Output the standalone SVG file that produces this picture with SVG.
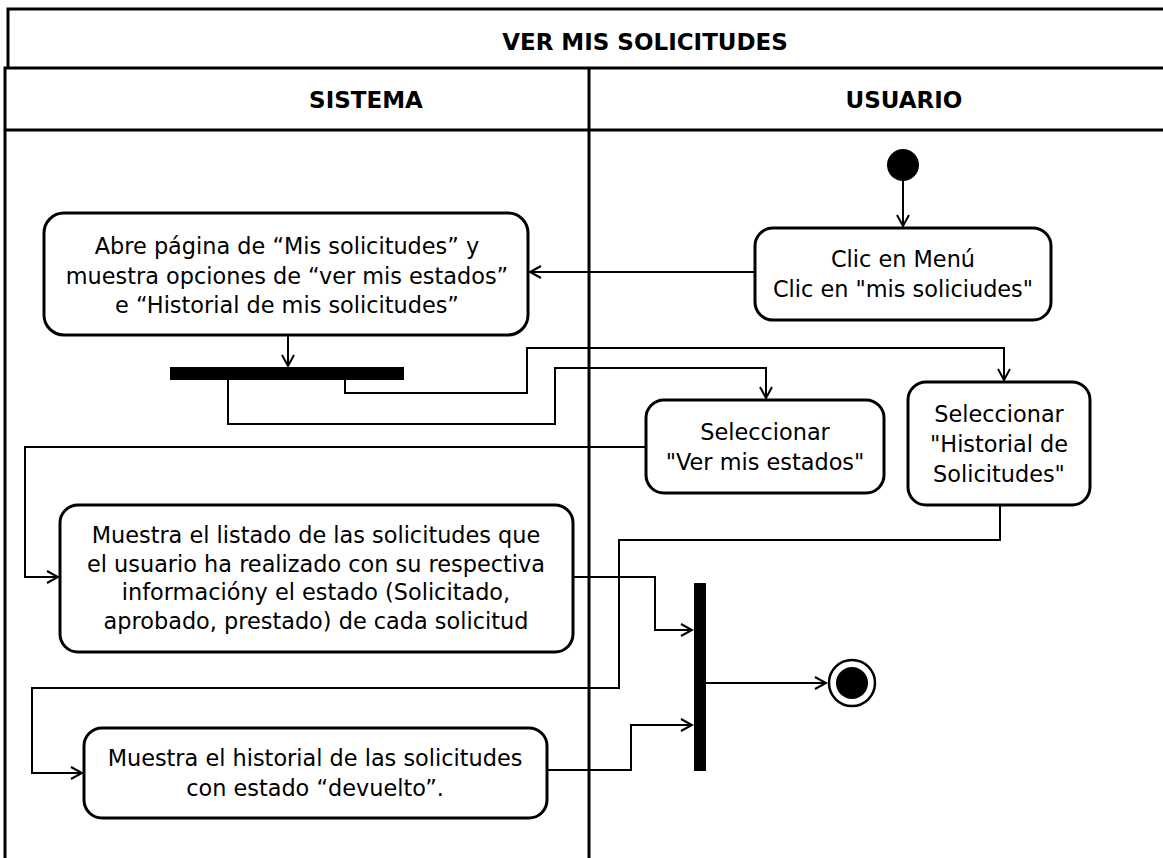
<svg xmlns="http://www.w3.org/2000/svg" width="1163" height="858" viewBox="0 0 1163 858">
<style>
text{font-family:"DejaVu Sans",Verdana,sans-serif;font-size:22.4px;fill:#000;text-anchor:middle}
text.hd{font-weight:bold;font-size:23px}
.frame{fill:none;stroke:#000;stroke-width:3}
.box{fill:#fff;stroke:#000;stroke-width:3}
.con{fill:none;stroke:#000;stroke-width:2}
</style>
<defs>
<marker id="arr" markerWidth="14" markerHeight="14" refX="12" refY="7" orient="auto" markerUnits="userSpaceOnUse">
<path d="M1,1 L12,7 L1,13" fill="none" stroke="#000" stroke-width="2"/>
</marker>
</defs>
<rect width="1163" height="858" fill="#fff"/>
<g id="frame">
<path class="frame" d="M1170,9 H8 V68"/>
<path class="frame" d="M1170,68 H5 V870"/>
<path class="frame" d="M5,130 H1170"/>
<path class="frame" d="M589,68 V870" stroke-width="2"/>
<text class="hd" x="645" y="50">VER MIS SOLICITUDES</text>
<text class="hd" x="366" y="108">SISTEMA</text>
<text class="hd" x="904" y="108">USUARIO</text>
</g>
<g id="connectors">
<path class="con" d="M903,181 V226" marker-end="url(#arr)"/>
<path class="con" d="M755,272 H530" marker-end="url(#arr)"/>
<path class="con" d="M288,335 V366" marker-end="url(#arr)"/>
<path class="con" d="M228,380 V424 H555 V368 H766 V398" marker-end="url(#arr)"/>
<path class="con" d="M345,380 V393 H527 V348 H1004 V380" marker-end="url(#arr)"/>
<path class="con" d="M646,447 H25 V577 H58" marker-end="url(#arr)"/>
<path class="con" d="M1000,505 V540 H619 V688 H32 V773 H82" marker-end="url(#arr)"/>
<path class="con" d="M573,577 H655 V630 H692" marker-end="url(#arr)"/>
<path class="con" d="M547,770 H631 V725 H692" marker-end="url(#arr)"/>
<path class="con" d="M706,683 H826" marker-end="url(#arr)"/>
</g>
<g id="start"><circle cx="903" cy="165" r="16" fill="#000"/></g>
<g id="clicMenu">
<rect class="box" x="755" y="228" width="296" height="92" rx="18"/>
<text x="903" y="267">Clic en Menú</text>
<text x="903" y="297">Clic en "mis soliciudes"</text>
</g>
<g id="abrePagina">
<rect class="box" x="44" y="213" width="484" height="122" rx="20"/>
<text x="287" y="254">Abre página de “Mis solicitudes” y</text>
<text x="287" y="284">muestra opciones de “ver mis estados”</text>
<text x="287" y="313">e “Historial de mis solicitudes”</text>
</g>
<g id="fork"><rect x="170" y="367" width="234" height="13" fill="#000"/></g>
<g id="verEstados">
<rect class="box" x="646" y="400" width="238" height="93" rx="18"/>
<text x="765" y="440">Seleccionar</text>
<text x="765" y="470">"Ver mis estados"</text>
</g>
<g id="selHistorial">
<rect class="box" x="908" y="382" width="182" height="123" rx="18"/>
<text x="999" y="422">Seleccionar</text>
<text x="999" y="452">"Historial de</text>
<text x="999" y="482">Solicitudes"</text>
</g>
<g id="muestraListado">
<rect class="box" x="60" y="505" width="513" height="147" rx="18"/>
<text x="316" y="543">Muestra el listado de las solicitudes que</text>
<text x="316" y="572">el usuario ha realizado con su respectiva</text>
<text x="316" y="600">informacióny el estado (Solicitado,</text>
<text x="316" y="629">aprobado, prestado) de cada solicitud</text>
</g>
<g id="muestraHistorial">
<rect class="box" x="84" y="728" width="463" height="90" rx="18"/>
<text x="315" y="766">Muestra el historial de las solicitudes</text>
<text x="315" y="796">con estado “devuelto”.</text>
</g>
<g id="join"><rect x="694" y="583" width="12" height="188" fill="#000"/></g>
<g id="end">
<circle cx="852" cy="683" r="23" fill="#fff" stroke="#000" stroke-width="2.5"/>
<circle cx="852" cy="683" r="16" fill="#000"/>
</g>
</svg>
